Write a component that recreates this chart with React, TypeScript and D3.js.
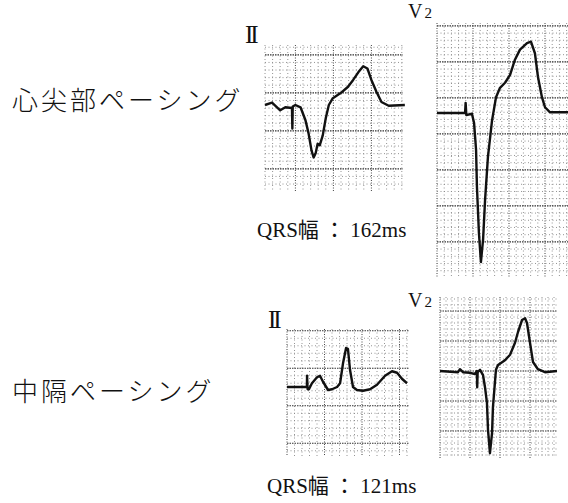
import * as d3 from "d3";

type Pt = [number, number]; // [time ms, amplitude mV]

// row titles and QRS durations
const rowLabels = ["心尖部ペーシング", "中隔ペーシング"];
const qrsWidths = [162, 121];

// apical pacing, lead II
const apicalII: Pt[] = [
  [0, 0], [37, 0.03], [80, -0.07], [107, -0.03], [142, -0.04], [144, -0.31], [146, -0.02],
  [160, 0], [187, -0.03], [213, -0.2], [229, -0.37], [245, -0.6], [256, -0.69], [267, -0.63],
  [277, -0.51], [288, -0.53], [304, -0.4], [320, -0.17], [336, 0], [357, 0.09], [400, 0.16],
  [437, 0.24], [464, 0.33], [491, 0.43], [517, 0.51], [539, 0.48], [560, 0.33], [587, 0.17],
  [613, 0.04], [651, -0.01], [736, 0],
];

// apical pacing, lead V2
const apicalV2: Pt[] = [
  [0, 0], [156, 0], [159, 0.14], [163, -0.03], [194, -0.01], [206, -0.14], [217, -0.51],
  [222, -1.03], [233, -1.67], [244, -2.07], [256, -1.76], [267, -1.21], [283, -0.61],
  [306, -0.1], [328, 0.22], [350, 0.35], [378, 0.42], [406, 0.53], [433, 0.74], [461, 0.88],
  [500, 0.97], [522, 0.99], [544, 0.83], [561, 0.5], [583, 0.22], [600, 0.08], [628, 0.01],
  [728, 0.01],
];

// septal pacing, lead II
const septalII: Pt[] = [
  [0, 0], [106, 0], [107, 0.15], [110, -0.03], [117, -0.03], [133, 0.05], [160, 0.13],
  [176, 0.15], [192, 0.07], [219, -0.04], [240, -0.03], [267, 0], [283, 0.05], [299, 0.32],
  [315, 0.52], [325, 0.51], [336, 0.23], [352, 0], [373, -0.04], [405, -0.05], [443, -0.03],
  [480, 0.03], [523, 0.15], [560, 0.21], [587, 0.19], [613, 0.11], [640, 0.05],
];

// septal pacing, lead V2
const septalV2: Pt[] = [
  [0, 0], [120, -0.02], [133, 0.03], [153, -0.02], [200, -0.03], [233, -0.05], [246, 0],
  [248, -0.27], [251, -0.02], [267, 0.02], [287, -0.07], [300, -0.27], [313, -0.53],
  [320, -0.98], [333, -1.37], [347, -1.03], [353, -0.6], [373, 0.02], [387, 0.1], [433, 0.18],
  [467, 0.27], [500, 0.47], [520, 0.65], [547, 0.85], [567, 0.88], [580, 0.8], [600, 0.47],
  [620, 0.15], [653, 0.03], [700, -0.02], [780, 0],
];

type Panel = {
  data: Pt[];
  lead: string;
  left: number;
  top: number;
  width: number;
  height: number;
  mm: number; // px per mm
  base: number; // baseline y
  t0: number; // first major vertical line (ms)
  v0: number; // a major horizontal line (mV)
  lx: number;
  ly: number;
};

const panels: Panel[] = [
  { data: apicalII, lead: "II", left: 265, top: 45, width: 138, height: 146, mm: 7.6, base: 105, t0: 160, v0: 0.16, lx: 245, ly: 43 },
  { data: apicalV2, lead: "V2", left: 437, top: 23, width: 131, height: 254, mm: 7.2, base: 113, t0: 0, v0: 0.21, lx: 408, ly: 18 },
  { data: septalII, lead: "II", left: 287, top: 329, width: 122, height: 127, mm: 7.5, base: 387, t0: 0, v0: 0.25, lx: 268, ly: 328 },
  { data: septalV2, lead: "V2", left: 440, top: 297, width: 117, height: 161, mm: 6, base: 371, t0: 0, v0: 0, lx: 408, ly: 307 },
];

function Strip({ p }: { p: Panel }) {
  const tMax = (p.width / p.mm) * 40;
  const vTop = ((p.base - p.top) / p.mm) * 0.1;
  const vBot = -((p.top + p.height - p.base) / p.mm) * 0.1;
  const x = d3.scaleLinear().domain([0, tMax]).range([p.left, p.left + p.width]);
  const y = d3.scaleLinear().domain([vTop, vBot]).range([p.top, p.top + p.height]);

  const kStartT = Math.ceil((0 - p.t0) / 40);
  const kEndT = Math.floor((tMax - p.t0) / 40);
  const vLines = d3.range(kStartT, kEndT + 1).map((k) => ({ t: p.t0 + k * 40, major: k % 5 === 0 }));
  const kStartV = Math.ceil((vBot - p.v0) / 0.1 - 1e-6);
  const kEndV = Math.floor((vTop - p.v0) / 0.1 + 1e-6);
  const hLines = d3.range(kStartV, kEndV + 1).map((k) => ({ v: p.v0 + k * 0.1, major: ((k % 5) + 5) % 5 === 0 }));

  const line = d3
    .line<Pt>()
    .x((d) => x(d[0]))
    .y((d) => y(d[1]))
    .curve(d3.curveLinear);

  return (
    <g>
      {vLines.map((l, i) => (
        <line
          key={"v" + i}
          x1={x(l.t)}
          x2={x(l.t)}
          y1={p.top}
          y2={p.top + p.height}
          stroke={l.major ? "#444" : "#888"}
          strokeWidth={l.major ? 1 : 0.9}
          strokeDasharray={l.major ? "1 1.5" : "1 2.5"}
        />
      ))}
      {hLines.map((l, i) => (
        <line
          key={"h" + i}
          x1={p.left}
          x2={p.left + p.width}
          y1={y(l.v)}
          y2={y(l.v)}
          stroke={l.major ? "#333" : "#888"}
          strokeWidth={l.major ? 1.2 : 0.9}
          strokeDasharray={l.major ? "1.5 1" : "1 2.5"}
        />
      ))}
      <path d={line(p.data) ?? ""} fill="none" stroke="#111" strokeWidth={2.4} strokeLinejoin="round" />
      {p.lead === "II" ? (
        <text x={p.lx} y={p.ly} fontFamily="'Liberation Serif', serif" fontSize={25} letterSpacing={-3} fill="#111">
          II
        </text>
      ) : (
        <text x={p.lx} y={p.ly} fontFamily="'Liberation Serif', serif" fontSize={20} fill="#111">
          V<tspan fontSize={15} dx={2}>2</tspan>
        </text>
      )}
    </g>
  );
}

export default function App() {
  const jp = "'Noto Sans CJK JP', sans-serif";
  const serif = "'Liberation Serif', 'Noto Sans CJK JP', serif";
  return (
    <svg
      width={568}
      height={503}
      style={{ position: "absolute", left: 0, top: 0, background: "#fff" }}
    >
      <rect width={568} height={503} fill="#fff" />
      {panels.map((p, i) => (
        <Strip key={i} p={p} />
      ))}
      <text x={12} y={110} fontFamily={jp} fontSize={26} fontWeight={300} letterSpacing={3} fill="#111">
        {rowLabels[0]}
      </text>
      <text x={12} y={401} fontFamily={jp} fontSize={26} fontWeight={300} letterSpacing={3} fill="#111">
        {rowLabels[1]}
      </text>
      <text x={257} y={237} fontFamily={serif} fontSize={21} fill="#111">
        {`QRS幅 ： ${qrsWidths[0]}ms`}
      </text>
      <text x={267} y={493} fontFamily={serif} fontSize={21} fill="#111">
        {`QRS幅 ： ${qrsWidths[1]}ms`}
      </text>
    </svg>
  );
}
